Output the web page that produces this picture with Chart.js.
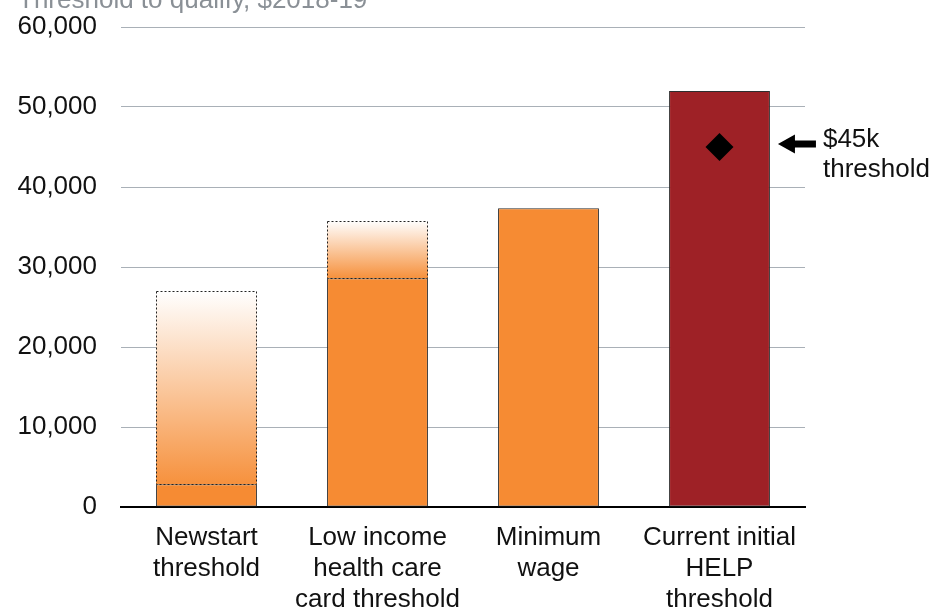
<!DOCTYPE html>
<html>
<head>
<meta charset="utf-8">
<script src="https://cdn.jsdelivr.net/npm/chart.js@4"></script>
<style>
  html, body { margin: 0; padding: 0; background: #ffffff; }
  canvas { display: block; }
</style>
</head>
<body>
<canvas id="c" width="929" height="607"></canvas>
<script>
// ---- data ----
const categories = [
  ["Newstart", "threshold"],
  ["Low income", "health care", "card threshold"],
  ["Minimum", "wage"],
  ["Current initial", "HELP", "threshold"]
];
const solidValues = [2850, 28600, 37350, 52000];           // solid bar heights
const rangeLow  = [2850, 28600, null, null];                // faded range start
const rangeHigh = [27000, 35800, null, null];               // faded range end
const markerValues = [null, null, null, 45000];             // $45k marker
const yTicks = [0, 10000, 20000, 30000, 40000, 50000, 60000];
const titleText = "Threshold to qualify, $2018-19";
const annotationLines = ["$45k", "threshold"];

const ORANGE = "#F68B33";
const DARKRED = "#9E2126";
const FONT = "'Liberation Sans', Arial, Helvetica, sans-serif";

Chart.defaults.font.family = FONT;
Chart.defaults.font.size = 26;
Chart.defaults.color = "#111111";

const fadedData = rangeLow.map((lo, i) => (lo === null ? null : [lo, rangeHigh[i]]));

function fadedGradient(ctx) {
  const chart = ctx.chart;
  const ys = chart.scales && chart.scales.y;
  const v = ctx.raw;
  if (!ys || !chart.chartArea || !v) return ORANGE;
  const bot = ys.getPixelForValue(v[0]);
  const top = ys.getPixelForValue(v[1]);
  const g = chart.ctx.createLinearGradient(0, bot, 0, top);
  g.addColorStop(0, "#F6913D");
  g.addColorStop(1, "#FFFFFF");
  return g;
}

const extrasPlugin = {
  id: "extras",
  afterDatasetsDraw(chart) {
    const ctx = chart.ctx;
    // dotted border around faded ranges
    const meta = chart.getDatasetMeta(2);
    ctx.save();
    ctx.strokeStyle = "#222222";
    ctx.lineWidth = 1;
    ctx.setLineDash([2, 2]);
    meta.data.forEach((el, i) => {
      if (fadedData[i] === null) return;
      const p = el.getProps(["x", "y", "base", "width"], true);
      const left = Math.round(p.x - p.width / 2) + 0.5;
      const right = Math.round(p.x + p.width / 2) - 0.5;
      const top = Math.round(p.y) + 0.5;
      const bot = Math.round(p.base) + 0.5;
      ctx.beginPath();
      ctx.rect(left, top, right - left, bot - top);
      ctx.stroke();
    });
    ctx.restore();
  },
  afterDraw(chart) {
    const ctx = chart.ctx;
    const ys = chart.scales.y;
    // title (partly cut at the top as in the reference)
    ctx.save();
    ctx.font = "26px " + FONT;
    ctx.fillStyle = "#8A9096";
    ctx.textBaseline = "alphabetic";
    ctx.textAlign = "left";
    ctx.fillText(titleText, 18, 8);
    ctx.restore();

    // arrow + annotation next to the marker
    const barMeta = chart.getDatasetMeta(1);
    const el = barMeta.data[3];
    const p = el.getProps(["x", "width"], true);
    const tipX = p.x + p.width / 2 + 8;
    const cy = ys.getPixelForValue(markerValues[3]) - 3;
    ctx.save();
    ctx.fillStyle = "#000000";
    ctx.beginPath();
    ctx.moveTo(tipX, cy);
    ctx.lineTo(tipX + 17, cy - 9.5);
    ctx.lineTo(tipX + 17, cy - 3.5);
    ctx.lineTo(tipX + 38, cy - 3.5);
    ctx.lineTo(tipX + 38, cy + 3.5);
    ctx.lineTo(tipX + 17, cy + 3.5);
    ctx.lineTo(tipX + 17, cy + 9.5);
    ctx.closePath();
    ctx.fill();
    ctx.font = "26px " + FONT;
    ctx.fillStyle = "#111111";
    ctx.textAlign = "left";
    ctx.textBaseline = "alphabetic";
    ctx.fillText(annotationLines[0], tipX + 45, cy + 3);
    ctx.fillText(annotationLines[1], tipX + 45, cy + 33);
    ctx.restore();
  }
};

new Chart(document.getElementById("c"), {
  data: {
    labels: categories,
    datasets: [
      {
        type: "line",
        label: "$45k threshold",
        data: markerValues,
        showLine: false,
        pointStyle: "rectRot",
        pointRadius: 14,
        pointHoverRadius: 14,
        pointBackgroundColor: "#000000",
        pointBorderColor: "#000000",
        pointBorderWidth: 0,
        order: 0
      },
      {
        type: "bar",
        label: "Threshold",
        data: solidValues,
        backgroundColor: [ORANGE, ORANGE, ORANGE, DARKRED],
        borderColor: "#2E2E2E",
        borderWidth: 1,
        borderSkipped: false,
        grouped: false,
        barPercentage: 0.59,
        categoryPercentage: 1.0,
        order: 2
      },
      {
        type: "bar",
        label: "Range",
        data: fadedData,
        backgroundColor: fadedGradient,
        borderWidth: 0,
        borderSkipped: false,
        grouped: false,
        barPercentage: 0.59,
        categoryPercentage: 1.0,
        order: 1
      }
    ]
  },
  options: {
    responsive: false,
    animation: false,
    events: [],
    layout: { padding: { top: 27, right: 124, left: 0, bottom: 0 } },
    plugins: {
      legend: { display: false },
      tooltip: { enabled: false },
      title: { display: false }
    },
    scales: {
      x: {
        offset: true,
        grid: { display: false, drawTicks: false },
        border: { display: true, color: "#000000", width: 2 },
        ticks: { color: "#111111", padding: 15, maxRotation: 0, autoSkip: false,
                 font: { size: 26, lineHeight: 1.2 } },
        afterFit(scale) { scale.height = 100; }
      },
      y: {
        min: 0,
        max: 60000,
        afterBuildTicks(scale) { scale.ticks = yTicks.map(v => ({ value: v })); },
        grid: { color: "#A9B0B7", lineWidth: 1, drawTicks: false },
        border: { display: false },
        ticks: {
          color: "#111111",
          padding: 24,
          font: { size: 26 },
          callback: (v) => Number(v).toLocaleString("en-US")
        },
        afterFit(scale) {
          scale.width = 121;
          scale.paddingTop = 0;
          scale.paddingBottom = 0;
        }
      }
    }
  },
  plugins: [extrasPlugin]
});
</script>
</body>
</html>
